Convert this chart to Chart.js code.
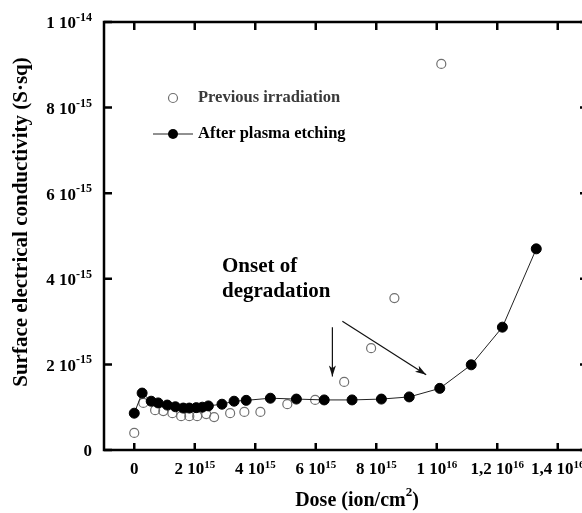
<!DOCTYPE html>
<html>
<head>
<meta charset="utf-8">
<script src="https://cdn.jsdelivr.net/npm/chart.js@4/dist/chart.umd.min.js"></script>
<style>
  html, body { margin: 0; padding: 0; background: #fff; overflow: hidden; }
  #wrap { width: 600px; height: 513px; }
</style>
</head>
<body>
<div id="wrap"><canvas id="chart" width="600" height="513"></canvas></div>
<script>
// Data (dose in ion/cm2, conductivity in S.sq)
const prevDose = [0, 0.30e15, 0.69e15, 0.96e15, 1.26e15, 1.55e15, 1.82e15, 2.08e15, 2.38e15, 2.64e15,
  3.17e15, 3.64e15, 4.17e15, 5.06e15, 5.98e15, 6.94e15, 7.83e15, 8.60e15, 10.15e15];
const prevCond = [0.40e-15, 1.10e-15, 0.93e-15, 0.91e-15, 0.86e-15, 0.79e-15, 0.79e-15, 0.79e-15, 0.84e-15, 0.77e-15,
  0.86e-15, 0.89e-15, 0.89e-15, 1.07e-15, 1.17e-15, 1.59e-15, 2.38e-15, 3.55e-15, 9.02e-15];

const etchDose = [0, 0.26e15, 0.56e15, 0.79e15, 1.09e15, 1.36e15, 1.62e15, 1.82e15, 2.05e15, 2.25e15, 2.45e15,
  2.9e15, 3.3e15, 3.7e15, 4.5e15, 5.36e15, 6.28e15, 7.2e15, 8.17e15, 9.09e15, 10.1e15, 11.14e15, 12.17e15, 13.29e15];
const etchCond = [0.86e-15, 1.33e-15, 1.14e-15, 1.10e-15, 1.05e-15, 1.01e-15, 0.98e-15, 0.98e-15, 0.99e-15, 1.00e-15, 1.03e-15,
  1.07e-15, 1.14e-15, 1.16e-15, 1.21e-15, 1.19e-15, 1.17e-15, 1.17e-15, 1.19e-15, 1.24e-15, 1.44e-15, 1.99e-15, 2.87e-15, 4.70e-15];

// Tick labels
const xTickValues = [0, 2e15, 4e15, 6e15, 8e15, 1e16, 1.2e16, 1.4e16];
const xTickBase = ['0', '2 10', '4 10', '6 10', '8 10', '1 10', '1,2 10', '1,4 10'];
const xTickExp = ['', '15', '15', '15', '15', '16', '16', '16'];
const yTickValues = [0, 2e-15, 4e-15, 6e-15, 8e-15, 1e-14];
const yTickBase = ['0', '2 10', '4 10', '6 10', '8 10', '1 10'];
const yTickExp = ['', '-15', '-15', '-15', '-15', '-14'];

const SERIF = '"Liberation Serif", "DejaVu Serif", serif';

function font(size) { return 'bold ' + size + 'px ' + SERIF; }

// base text + superscript, anchored by align ('center' | 'right' | 'left')
function drawSup(ctx, base, exp, x, y, align, size, supSize, rise) {
  ctx.font = font(size);
  const wb = ctx.measureText(base).width;
  ctx.font = font(supSize);
  const we = exp ? ctx.measureText(exp).width : 0;
  const total = wb + we;
  let x0 = x;
  if (align === 'center') x0 = x - total / 2;
  else if (align === 'right') x0 = x - total;
  ctx.textAlign = 'left';
  ctx.textBaseline = 'middle';
  ctx.font = font(size);
  ctx.fillText(base, x0, y);
  if (exp) {
    ctx.font = font(supSize);
    ctx.fillText(exp, x0 + wb, y - rise);
  }
  return x0 + total;
}

function arrow(ctx, x1, y1, x2, y2) {
  ctx.beginPath();
  ctx.moveTo(x1, y1);
  ctx.lineTo(x2, y2);
  ctx.stroke();
  const a = Math.atan2(y2 - y1, x2 - x1);
  const len = 11, hw = 3.5;
  ctx.beginPath();
  ctx.moveTo(x2, y2);
  ctx.lineTo(x2 - len * Math.cos(a) + hw * Math.sin(a), y2 - len * Math.sin(a) - hw * Math.cos(a));
  ctx.lineTo(x2 - len * 0.75 * Math.cos(a), y2 - len * 0.75 * Math.sin(a));
  ctx.lineTo(x2 - len * Math.cos(a) - hw * Math.sin(a), y2 - len * Math.sin(a) + hw * Math.cos(a));
  ctx.closePath();
  ctx.fill();
}

const framePlugin = {
  id: 'frame',
  afterDraw(chart) {
    const ctx = chart.ctx;
    const { left, right, top, bottom } = chart.chartArea;
    const xs = chart.scales.x, ys = chart.scales.y;
    ctx.save();
    ctx.fillStyle = '#000';
    ctx.strokeStyle = '#000';

    // box
    ctx.lineWidth = 2.5;
    ctx.strokeRect(left, top, right - left, bottom - top);

    // inward ticks
    ctx.beginPath();
    xTickValues.forEach(v => {
      const px = xs.getPixelForValue(v);
      ctx.moveTo(px, bottom); ctx.lineTo(px, bottom - 7);
      ctx.moveTo(px, top); ctx.lineTo(px, top + 8);
    });
    yTickValues.forEach(v => {
      const py = ys.getPixelForValue(v);
      ctx.moveTo(left, py); ctx.lineTo(left + 8, py);
      ctx.moveTo(right, py); ctx.lineTo(right - 8, py);
    });
    ctx.stroke();

    // tick labels
    xTickValues.forEach((v, i) => {
      drawSup(ctx, xTickBase[i], xTickExp[i], xs.getPixelForValue(v), bottom + 20, 'center', 17, 11, 5);
    });
    yTickValues.forEach((v, i) => {
      drawSup(ctx, yTickBase[i], yTickExp[i], left - 12, ys.getPixelForValue(v) + 2, 'right', 17, 12, 6);
    });

    // x title
    ctx.font = font(20);
    const w1 = ctx.measureText('Dose (ion/cm').width;
    const w3 = ctx.measureText(')').width;
    ctx.font = font(13);
    const w2 = ctx.measureText('2').width;
    const tx = 357 - (w1 + w2 + w3) / 2;
    const end = drawSup(ctx, 'Dose (ion/cm', '2', tx, 501, 'left', 20, 13, 8);
    ctx.font = font(20);
    ctx.fillText(')', end, 501);

    // y title
    ctx.save();
    ctx.translate(22, 222);
    ctx.rotate(-Math.PI / 2);
    ctx.font = font(21);
    ctx.textAlign = 'center';
    ctx.textBaseline = 'middle';
    ctx.fillText('Surface electrical conductivity (S\u00b7sq)', 0, 0);
    ctx.restore();

    // legend
    ctx.textAlign = 'left';
    ctx.textBaseline = 'middle';
    ctx.lineWidth = 1.2;
    ctx.strokeStyle = '#707070';
    ctx.beginPath();
    ctx.arc(173, 98, 4.5, 0, Math.PI * 2);
    ctx.stroke();
    ctx.fillStyle = '#3a3a3a';
    ctx.font = font(16.5);
    ctx.fillText('Previous irradiation', 198, 98);

    ctx.strokeStyle = '#222';
    ctx.lineWidth = 1;
    ctx.beginPath();
    ctx.moveTo(153, 134); ctx.lineTo(193, 134);
    ctx.stroke();
    ctx.fillStyle = '#000';
    ctx.beginPath();
    ctx.arc(173, 134, 5, 0, Math.PI * 2);
    ctx.fill();
    ctx.fillText('After plasma etching', 198, 134);

    // annotation
    ctx.font = font(21);
    const ax = xs.getPixelForValue(2.9e15);
    ctx.fillText('Onset of', ax, ys.getPixelForValue(4.28e-15));
    ctx.fillText('degradation', ax, ys.getPixelForValue(3.69e-15));

    ctx.strokeStyle = '#111';
    ctx.fillStyle = '#111';
    ctx.lineWidth = 1.2;
    arrow(ctx, xs.getPixelForValue(6.55e15), ys.getPixelForValue(2.87e-15),
      xs.getPixelForValue(6.55e15), ys.getPixelForValue(1.72e-15));
    arrow(ctx, xs.getPixelForValue(6.88e15), ys.getPixelForValue(3.01e-15),
      xs.getPixelForValue(9.65e15), ys.getPixelForValue(1.76e-15));

    ctx.restore();
  }
};

new Chart(document.getElementById('chart'), {
  type: 'scatter',
  data: {
    datasets: [
      {
        label: 'After plasma etching',
        data: etchDose.map((d, i) => ({ x: d, y: etchCond[i] })),
        showLine: true,
        borderColor: '#222',
        borderWidth: 1,
        pointRadius: 5,
        pointBackgroundColor: '#000',
        pointBorderColor: '#000',
        pointBorderWidth: 1,
        order: 0
      },
      {
        label: 'Previous irradiation',
        data: prevDose.map((d, i) => ({ x: d, y: prevCond[i] })),
        showLine: false,
        pointRadius: 4.5,
        pointBackgroundColor: 'rgba(255,255,255,0)',
        pointBorderColor: '#707070',
        pointBorderWidth: 1.2,
        order: 1
      }
    ]
  },
  options: {
    responsive: false,
    animation: false,
    devicePixelRatio: 1,
    clip: false,
    layout: { padding: { left: 104, top: 22, right: 12, bottom: 63 } },
    plugins: { legend: { display: false }, tooltip: { enabled: false } },
    scales: {
      x: { type: 'linear', min: -1e15, max: 1.5e16, display: false },
      y: { type: 'linear', min: 0, max: 1e-14, display: false }
    }
  },
  plugins: [framePlugin]
});
</script>
</body>
</html>
